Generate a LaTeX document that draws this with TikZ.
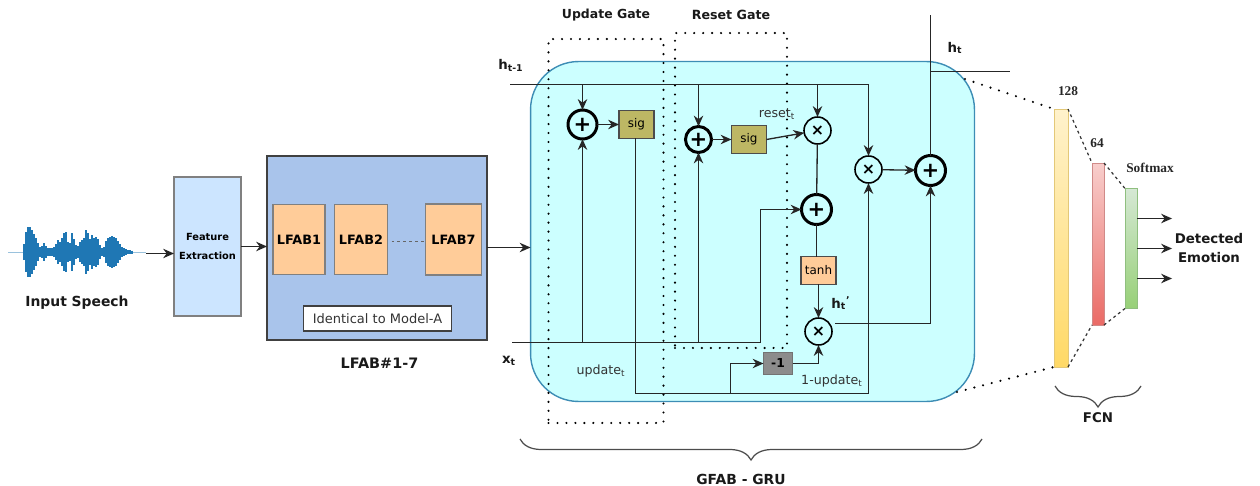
\documentclass[tikz,border=0pt]{standalone}
\usepackage{fontspec}
\setmainfont{DejaVu Sans}
\newfontfamily\numfont{Liberation Serif}
\usetikzlibrary{calc}
\usetikzlibrary{arrows.meta}
\usetikzlibrary{positioning}
\usetikzlibrary{decorations.pathreplacing}
\definecolor{cellCyan}{HTML}{CCFFFF}
\definecolor{cellEdge}{HTML}{3D8DB5}
\definecolor{lfabBlue}{HTML}{A9C4EB}
\definecolor{featBlue}{HTML}{CCE5FF}
\definecolor{lfabOrange}{HTML}{FFCC99}
\definecolor{sigOlive}{HTML}{BDB764}
\definecolor{waveBlue}{HTML}{1F77B4}
\definecolor{inkGrey}{HTML}{333333}
\definecolor{barAtop}{HTML}{FFF2CC}
\definecolor{barAbot}{HTML}{FFD966}
\definecolor{barAedge}{HTML}{E3C878}
\definecolor{barBtop}{HTML}{F8CECC}
\definecolor{barBbot}{HTML}{EA6B66}
\definecolor{barBedge}{HTML}{D08A88}
\definecolor{barCtop}{HTML}{D5E8D4}
\definecolor{barCbot}{HTML}{97D077}
\definecolor{barCedge}{HTML}{8FBF7F}
\tikzset{>={Stealth[length=6.2pt,width=5.4pt]},
        boldtext/.style={font=\bfseries\fontsize{7.6}{10}\selectfont, text=black!90, inner sep=0pt},
        thintext/.style={font=\fontsize{7.2}{9}\selectfont, text=inkGrey, inner sep=0pt},
        numtext/.style={font=\numfont\bfseries\fontsize{7.6}{9}\selectfont, text=black!85, inner sep=0pt},
        lfabnode/.style={draw=black!50, line width=.6pt, fill=lfabOrange, outer sep=0pt,
                        font=\bfseries\fontsize{7.3}{9}\selectfont, inner sep=0pt},
        gatenode/.style={draw=black!70, line width=.6pt, outer sep=0pt, inner sep=0pt,
                        minimum width=.7cm, minimum height=.55cm, font=\fontsize{6.8}{9}\selectfont},
        plusnode/.style={circle, draw=black, line width=1.7pt, fill=cellCyan, outer sep=0pt, inner sep=0pt,
                        font=\bfseries\fontsize{12}{12}\selectfont},
        timesnode/.style={circle, draw=black, line width=.9pt, fill=cellCyan, outer sep=0pt, inner sep=0pt,
                        minimum size=.54cm, font=\bfseries\fontsize{9}{9}\selectfont},
        gateframe/.style={draw=black, line width=1.35pt, line cap=round, dash pattern=on 0pt off 5.1pt,
                        outer sep=0pt},
        fcnbar/.style={line width=.5pt, outer sep=0pt},
        wire/.style={draw=black!85, line width=.75pt},
        flow/.style={->, draw=black!85, line width=.75pt},
        finedash/.style={draw=black!80, line width=.7pt, dash pattern=on 1.6pt off 1.8pt},
        bigdots/.style={draw=black, line width=1.35pt, line cap=round, dash pattern=on 0pt off 5.1pt},
        curly/.style={draw=black!70, line width=.7pt, decorate,
                        decoration={brace, mirror, amplitude=.42cm}},
}

\begin{document}
\begin{tikzpicture}
    [x=0.02cm,y=-0.02cm]
    \useasboundingbox (0,0) rectangle (1260,486);

    % INPUT
    \draw[waveBlue!45, line width=.5pt] (8,252.5) -- (146,252.5);
    \foreach \x/\a in {24/8,26/20,28/25,30/25,32/22,34/18,36/14,38/9,40/5,42/6,44/9,46/6,48/4,50/4,
            52/4,54/5,56/8,58/12,60/10,62/14,64/19,66/20,68/10,70/9,72/19,74/13,76/7,78/6,80/10,82/12,
            84/14,86/22,88/19,90/13,92/17,94/14,96/15,98/13,100/7,102/4,104/5,106/11,108/14,110/15,
            112/16,114/15,116/14,118/11,120/8,122/5,124/4,126/3,128/2,130/2,132/1.5}
        \draw[waveBlue, line width=1.2pt] (\x,252-\a) -- (\x,252+\a);
    \coordinate (waveEnd) at (146,253.5);
    \node[boldtext, font=\bfseries\fontsize{7.9}{10}\selectfont] (inputSpeech) at (77,303) {Input Speech};

    \node[draw=black!50, line width=.6pt, fill=featBlue, outer sep=0pt, minimum width=1.34cm, minimum height=2.78cm,
        align=center, inner sep=0pt, font=\bfseries\fontsize{5.6}{10.3}\selectfont] (featureExtraction) at (207.5,246.5)
        {Feature\\Extraction};

    % LFAB
    \node[draw=black!75, line width=.65pt, fill=lfabBlue, outer sep=0pt, minimum width=4.4cm, minimum height=3.68cm]
        (lfabBlock) at (377,248) {};
    \node[lfabnode, minimum width=1.04cm, minimum height=1.4cm] (lfabA) at (299,239.5) {LFAB1};
    \node[lfabnode, minimum width=1.06cm, minimum height=1.4cm] (lfabB) at (361,239.5) {LFAB2};
    \node[lfabnode, minimum width=1.12cm, minimum height=1.42cm] (lfabG) at (453.5,239.5) {LFAB7};
    \node[draw=black!75, line width=.6pt, fill=white, outer sep=0pt, inner sep=0pt, minimum width=2.96cm, minimum height=.5cm,
        font=\fontsize{7.4}{9}\selectfont, text=inkGrey] (identicalBox) at (377.5,318.5) {Identical to Model-A};
    \node[boldtext, font=\bfseries\fontsize{8.2}{10}\selectfont, below=.36cm of lfabBlock, xshift=.05cm] (lfabLabel) {LFAB\#1-7};
    \draw[finedash, draw=black!60] ($(lfabB.east)+(4,2)$) -- ($(lfabG.west)+(-2,2)$);

    % GRU CELL
    \node[draw=cellEdge, line width=.8pt, fill=cellCyan, rounded corners=.96cm, outer sep=0pt,
        minimum width=8.88cm, minimum height=6.8cm] (gruCell) at (752.5,231.5) {};
    \node[gateframe, minimum width=2.3cm, minimum height=7.68cm] (updateGate) at (606,231) {};
    \node[gateframe, minimum width=2.24cm, minimum height=6.3cm] (resetGate) at (731,190.5) {};
    \node[boldtext, font=\bfseries\fontsize{7.1}{10}\selectfont, above=.36cm of updateGate] (updateLabel) {Update Gate};
    \node[boldtext, font=\bfseries\fontsize{7.2}{10}\selectfont, above=.26cm of resetGate] (resetLabel) {Reset Gate};

    \node[plusnode, minimum size=.58cm] (plusA) at (582.5,124.5) {+};
    \node[plusnode, minimum size=.52cm] (plusB) at (698.5,139.5) {+};
    \node[plusnode, minimum size=.6cm] (plusC) at (816.5,209.5) {+};
    \node[plusnode, minimum size=.6cm] (plusD) at (930.5,170.5) {+};
    \node[timesnode] (timesA) at (817.5,130.5) {×};
    \node[timesnode] (timesB) at (868.5,169.5) {×};
    \node[timesnode] (timesC) at (818.5,331.5) {×};

    \node[gatenode, fill=sigOlive, right=.44cm of plusA] (sigA) {sig};
    \node[gatenode, fill=sigOlive, right=.4cm of plusB] (sigB) {sig};
    \node[gatenode, fill=lfabOrange] (tanhBox) at (818.5,270.5) {tanh};
    \node[gatenode, fill=black!45, draw=black!55, minimum width=.58cm, minimum height=.44cm,
        font=\bfseries\fontsize{7}{9}\selectfont] (minusOne) at (778,363.5) {-1};

    \node[boldtext] (hPrevLabel) at (511,65) {h\textsubscript{t-1}};
    \node[boldtext] (xLabel) at (509,361) {x\textsubscript{t}};
    \node[boldtext] (hLabel) at (955,48) {h\textsubscript{t}};
    \node[boldtext] (hDashLabel) at (841,303) {h\textsubscript{t}\textsuperscript{'}};
    \node[thintext] (resetText) at (777,114) {reset\textsubscript{t}};
    \node[thintext] (updateText) at (601,371) {update\textsubscript{t}};
    \node[thintext] (oneMinusText) at (832,381) {1-update\textsubscript{t}};

    \coordinate (hPrevIn) at (510,84.5);
    \coordinate (hPrevTurn) at (868.5,84.5);
    \coordinate (xIn) at (512,342.5);
    \coordinate (xTurn) at (760.5,342.5);
    \coordinate (updateLeft) at (635.5,393.5);
    \coordinate (updateRight) at (868.5,393.5);
    \coordinate (updateBranch) at (730.5,393.5);
    \coordinate (hOutTop) at (930.5,15);
    \coordinate (hOutRight) at (1010,71.5);
    \coordinate (timesOut) at (835,323.5);

    \draw[wire] (hPrevIn) -- (hPrevTurn);
    \draw[flow] (hPrevTurn) -- (timesB);
    \draw[flow] (hPrevIn -| plusA) -- (plusA);
    \draw[flow] (hPrevIn -| plusB) -- (plusB);
    \draw[flow] (hPrevIn -| timesA) -- (timesA);

    \draw[flow] (plusA) -- (sigA);
    \draw[flow] (plusB) -- (sigB);
    \draw[flow] (sigB.east) -- (timesA);
    \draw[wire] (timesA) -- (plusC);
    \draw[wire] (plusC.south) -- (plusC.south |- tanhBox.north);
    \draw[flow] (tanhBox) -- (timesC);

    \draw[wire] (xIn) -- (xTurn);
    \draw[flow] (xTurn) |- (plusC);
    \draw[flow] (xIn -| plusA) -- (plusA);
    \draw[flow] (xIn -| plusB) -- (plusB);

    \draw[wire] (sigA.south -| updateLeft) -- (updateLeft) -- (updateRight);
    \draw[flow] (updateRight) -- (timesB);
    \draw[flow] (updateBranch) |- (minusOne);
    \draw[flow] (minusOne.east) -| (timesC);

    \draw[flow] (timesOut) -| (plusD);
    \draw[flow] (timesB) -- (plusD);
    \draw[wire] (plusD) -- (hOutTop);
    \draw[wire] (hOutRight -| plusD) -- (hOutRight);

    \draw[curly] (520,439) -- (982,439);
    \node[boldtext, font=\bfseries\fontsize{7.9}{10}\selectfont] (gfabLabel) at (741,479) {GFAB - GRU};

    % FCN
    \node[fcnbar, draw=barAedge, top color=barAtop, bottom color=barAbot,
        minimum width=.28cm, minimum height=5.16cm] (barA) at (1061,238) {};
    \node[fcnbar, draw=barBedge, top color=barBtop, bottom color=barBbot,
        minimum width=.24cm, minimum height=3.24cm] (barB) at (1098,244) {};
    \node[fcnbar, draw=barCedge, top color=barCtop, bottom color=barCbot,
        minimum width=.24cm, minimum height=2.4cm] (barC) at (1131,248.5) {};
    \node[numtext] (barALabel) at (1068,91) {128};
    \node[numtext] (barBLabel) at (1097,143) {64};
    \node[numtext] (barCLabel) at (1150,168) {Softmax};

    \coordinate (cellTop) at (965,79);
    \coordinate (cellBottom) at (957,392);
    \draw[bigdots] (cellTop) -- (barA.north west);
    \draw[bigdots] (cellBottom) -- (barA.south west);
    \draw[finedash] (barA.north east) -- (barB.north west);
    \draw[finedash] (barA.south east) -- (barB.south west);
    \draw[finedash] (barB.north east) -- (barC.north west);
    \draw[finedash] (barB.south east) -- (barC.south west);

    \node[boldtext, align=center, font=\bfseries\fontsize{7.6}{10.3}\selectfont] (emotion) at (1209,248) {Detected\\Emotion};
    \coordinate (outA) at (1172,218.5);
    \coordinate (outB) at (1172,248.5);
    \coordinate (outC) at (1172,278.5);
    \draw[flow] (barC.east |- outA) -- (outA);
    \draw[flow] (barC.east |- outB) -- (outB);
    \draw[flow] (barC.east |- outC) -- (outC);

    \draw[curly] (1055,386) -- (1141,386);
    \node[boldtext] (fcnLabel) at (1098,418) {FCN};

    % LINKS
    \draw[flow] (waveEnd) -- (waveEnd -| featureExtraction.west);
    \draw[flow] (featureExtraction.east) -- (lfabBlock.west |- featureExtraction.east);
    \draw[flow] ($(lfabBlock.east)+(0,-.5)$) -- ($(gruCell.west |- lfabBlock.east)+(0,-.5)$);

\end{tikzpicture}
\end{document}
